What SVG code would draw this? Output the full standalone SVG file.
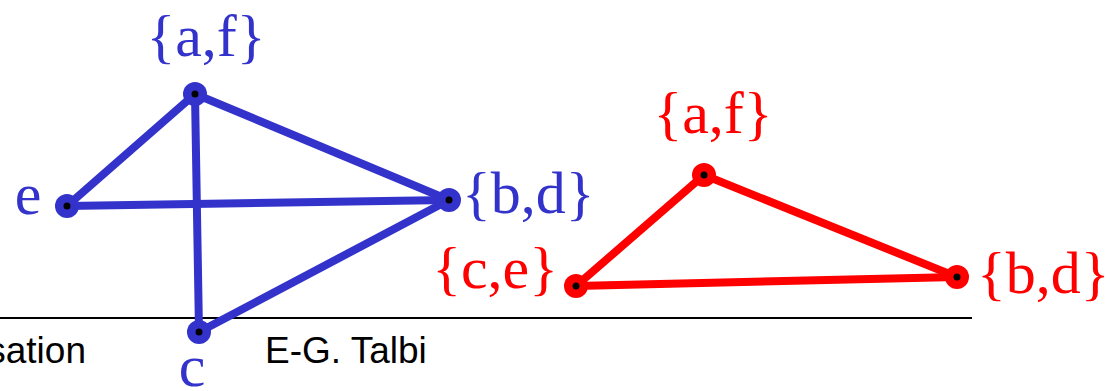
<svg xmlns="http://www.w3.org/2000/svg" width="1110" height="391" viewBox="0 0 1110 391">
<style>
.b{stroke:#3333CC;stroke-width:8;stroke-linecap:round;fill:none}
.r{stroke:#FF0000;stroke-width:8;stroke-linecap:round;fill:none}
.bn{fill:#3333CC}
.rn{fill:#FF0000}
.dot{fill:#000}
.lb{font-family:"Liberation Serif",serif;font-size:60px;fill:#3333CC}
.lr{font-family:"Liberation Serif",serif;font-size:60px;fill:#FF0000}
.ft{font-family:"Liberation Sans",sans-serif;font-size:37px;fill:#000}
</style>
<line x1="0" y1="318" x2="972" y2="318" stroke="#000" stroke-width="2"/>
<text class="ft" x="86" y="363" text-anchor="end">sation</text>
<text class="ft" x="265" y="363">E-G. Talbi</text>
<g id="connectors">
<line class="b" x1="195" y1="94" x2="67" y2="206"/>
<line class="b" x1="195" y1="94" x2="449" y2="200"/>
<line class="b" x1="195" y1="94" x2="199" y2="332"/>
<line class="b" x1="67" y1="206" x2="449" y2="200"/>
<line class="b" x1="199" y1="332" x2="449" y2="200"/>
<line class="r" x1="704" y1="175" x2="576" y2="286"/>
<line class="r" x1="704" y1="175" x2="957" y2="277"/>
<line class="r" x1="576" y1="286" x2="957" y2="277"/>
</g>
<g id="b-af"><circle class="bn" cx="195" cy="94" r="12"/><circle class="dot" cx="195" cy="94" r="3.5"/><text class="lb" x="206" y="56" text-anchor="middle">{a,f}</text></g>
<g id="b-e"><circle class="bn" cx="67" cy="206" r="12"/><circle class="dot" cx="67" cy="206" r="3.5"/><text class="lb" x="28" y="214" text-anchor="middle">e</text></g>
<g id="b-bd"><circle class="bn" cx="449" cy="200" r="12"/><circle class="dot" cx="449" cy="200" r="3.5"/><text class="lb" x="462" y="213">{b,d}</text></g>
<g id="b-c"><circle class="bn" cx="199" cy="332" r="12"/><circle class="dot" cx="199" cy="332" r="3.5"/><text class="lb" x="192" y="386" text-anchor="middle">c</text></g>
<g id="r-af"><circle class="rn" cx="704" cy="175" r="12"/><circle class="dot" cx="704" cy="175" r="3.5"/><text class="lr" x="713" y="133" text-anchor="middle">{a,f}</text></g>
<g id="r-ce"><circle class="rn" cx="576" cy="286" r="12"/><circle class="dot" cx="576" cy="286" r="3.5"/><text class="lr" x="558" y="288" text-anchor="end">{c,e}</text></g>
<g id="r-bd"><circle class="rn" cx="957" cy="277" r="12"/><circle class="dot" cx="957" cy="277" r="3.5"/><text class="lr" x="977" y="293">{b,d}</text></g>
</svg>
